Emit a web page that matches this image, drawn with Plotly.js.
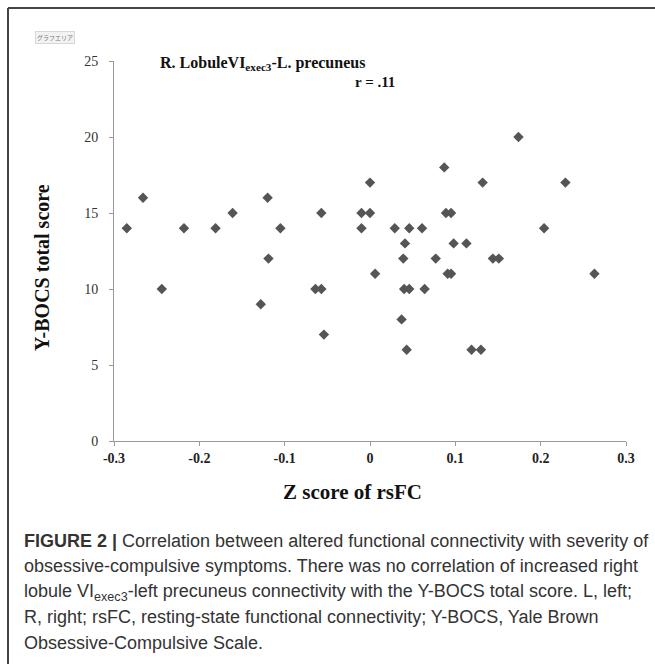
<!DOCTYPE html>
<html>
<head>
<meta charset="utf-8">
<script src="https://cdn.plot.ly/plotly-3.0.1.min.js"></script>
<style>
html,body{margin:0;padding:0;background:#fff;}
#chart{width:655px;height:664px;}
</style>
</head>
<body>
<div id="chart"></div>
<script>
// Z score of rsFC (x) and Y-BOCS total score (y)
var zScore = [-0.285,-0.266,-0.244,-0.218,-0.181,-0.161,-0.120,-0.128,-0.119,-0.105,
  -0.057,-0.064,-0.057,-0.054,0.174,0.087,0.000,0.132,0.229,-0.010,
  0.000,0.089,0.095,-0.010,0.029,0.046,0.061,0.204,0.041,0.098,
  0.113,0.039,0.077,0.144,0.151,0.006,0.091,0.095,0.263,0.040,
  0.046,0.064,0.037,0.043,0.119,0.130];
var ybocs = [14,16,10,14,14,15,16,9,12,14,
  15,10,10,7,20,18,17,17,17,15,
  15,15,15,14,14,14,14,14,13,13,
  13,12,12,12,12,11,11,11,11,10,
  10,10,8,6,6,6];
var xTicks = [-0.3,-0.2,-0.1,0,0.1,0.2,0.3];
var xTickText = ['-0.3','-0.2','-0.1','0','0.1','0.2','0.3'];
var yTicks = [0,5,10,15,20,25];
var chartTitle = 'R. LobuleVI<sub>exec3</sub>-L. precuneus';
var rText = 'r = .11';
var xTitle = 'Z score of rsFC';
var yTitle = 'Y-BOCS total score';
var badgeText = 'グラフエリア';
var captionLines = [
  '<b>FIGURE 2 |</b> Correlation between altered functional connectivity with severity of',
  'obsessive-compulsive symptoms. There was no correlation of increased right',
  'lobule VI<sub>exec3</sub>-left precuneus connectivity with the Y-BOCS total score. L, left;',
  'R, right; rsFC, resting-state functional connectivity; Y-BOCS, Yale Brown',
  'Obsessive-Compulsive Scale.'
];

var W = 655, H = 664;
var L = 114, R = 29, T = 61, B = 223;
var pw = W - L - R, ph = H - T - B;
function px(xp){ return (xp - L) / pw; }
function py(yp){ return (H - B - yp) / ph; }

var serif = 'Liberation Serif, Times New Roman, serif';
var sans = 'Liberation Sans, Arial, Helvetica, sans-serif';

var annotations = [
  {text: '<b>' + chartTitle + '</b>', xref:'paper', yref:'paper', x: px(262), y: py(63),
   xanchor:'center', yanchor:'middle', showarrow:false, font:{family:serif, size:16, color:'#111'}},
  {text: '<b>' + rText + '</b>', xref:'paper', yref:'paper', x: px(375), y: py(82),
   xanchor:'center', yanchor:'middle', showarrow:false, font:{family:serif, size:15, color:'#111'}},
  {text: '<b>' + xTitle + '</b>', xref:'paper', yref:'paper', x: px(352), y: py(492),
   xanchor:'center', yanchor:'middle', showarrow:false, font:{family:serif, size:21, color:'#111'}},
  {text: '<b>' + yTitle + '</b>', xref:'paper', yref:'paper', x: px(42), y: py(268),
   xanchor:'center', yanchor:'middle', textangle:-90, showarrow:false, font:{family:serif, size:20, color:'#111'}},
  {text: badgeText, xref:'paper', yref:'paper', x: px(55), y: py(38),
   xanchor:'center', yanchor:'middle', showarrow:false, bgcolor:'#f2f2f2', bordercolor:'#d8d8d8',
   borderwidth:1, borderpad:1, font:{family:'Noto Sans CJK JP, sans-serif', size:6, color:'#777'}}
];
var capBase = [541, 566, 592, 617, 643];
for (var i = 0; i < captionLines.length; i++) {
  annotations.push({text: captionLines[i], xref:'paper', yref:'paper', x: px(22), y: py(capBase[i]),
    xanchor:'left', yanchor:'middle', showarrow:false, font:{family:sans, size:18, color:'#333'}});
}

var trace = {
  x: zScore, y: ybocs, type:'scatter', mode:'markers',
  marker:{symbol:'diamond', size:8, color:'#555555'},
  hoverinfo:'x+y', showlegend:false
};

var layout = {
  width: W, height: H,
  margin:{l:L, r:R, t:T, b:B},
  paper_bgcolor:'#ffffff', plot_bgcolor:'#ffffff',
  showlegend:false,
  xaxis:{
    range:[-0.3,0.3], tickvals:xTicks, ticktext:xTickText,
    showgrid:false, zeroline:false, showline:true, linecolor:'#999', linewidth:1,
    ticks:'outside', ticklen:4, tickcolor:'#999',
    tickfont:{family:serif, size:14, color:'#222', weight:'bold'}
  },
  yaxis:{
    range:[0,25], tickvals:yTicks,
    showgrid:false, zeroline:false, showline:true, linecolor:'#999', linewidth:1,
    ticks:'outside', ticklen:4, tickcolor:'#999', ticklabelstandoff:8,
    tickfont:{family:serif, size:14, color:'#333'}
  },
  annotations: annotations,
  shapes:[
    {type:'line', xref:'paper', yref:'paper', x0:px(8), x1:px(655), y0:py(8), y1:py(8),
     line:{color:'#444', width:2}},
    {type:'line', xref:'paper', yref:'paper', x0:px(8), x1:px(8), y0:py(8), y1:py(664),
     line:{color:'#444', width:2}}
  ]
};

Plotly.newPlot('chart', [trace], layout, {displayModeBar:false, staticPlot:true});
</script>
</body>
</html>
